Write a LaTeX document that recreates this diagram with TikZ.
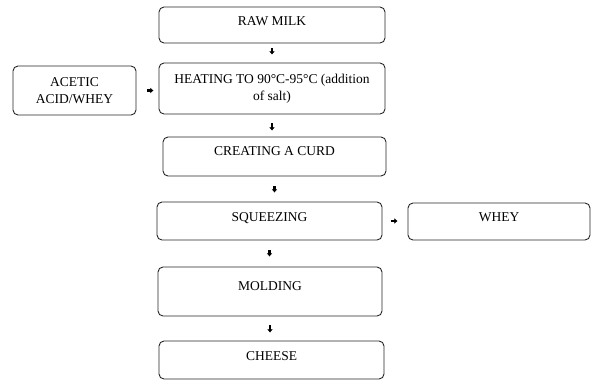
\documentclass[tikz,border=0pt]{standalone}
\usepackage{fontspec}
\setmainfont{Liberation Serif}
\usetikzlibrary{arrows.meta}
\begin{document}
\begin{tikzpicture}[x=1bp,y=-1bp,
  box/.style={draw=black!85, line width=0.9bp, rounded corners=5bp, rectangle,
    inner sep=0pt, align=center, font=\fontsize{13.5bp}{17bp}\selectfont},
  arr/.style={draw=black, line width=2.2bp, -{Latex[length=3.2bp,width=6bp]}}]
\useasboundingbox (0,0) rectangle (593,381);
\node[box, minimum width=226bp, minimum height=36bp, text depth=7bp] (raw) at (272,25) {RAW MILK};
\node[box, minimum width=226bp, minimum height=51bp] (heat) at (272,88.5) {HEATING TO 90°C-95°C (addition\\of salt)};
\node[box, minimum width=123bp, minimum height=49bp] (acetic) at (74.5,90.5) {ACETIC\\ACID/WHEY};
\node[box, minimum width=223bp, minimum height=39bp, text depth=10bp] (curd) at (274.5,156.5) {CREATING A CURD};
\node[box, minimum width=225bp, minimum height=38bp, text depth=8bp] (squeeze) at (269.5,221) {SQUEEZING};
\node[box, minimum width=182bp, minimum height=37bp, text depth=8bp] (whey) at (499,221.5) {WHEY};
\node[box, minimum width=224bp, minimum height=49bp, text depth=10bp] (mold) at (270,291.5) {MOLDING};
\node[box, minimum width=225bp, minimum height=38bp, text depth=8bp] (cheese) at (271.5,360) {CHEESE};
\draw[arr, shorten <=5bp, shorten >=8bp] (raw.south) -- (raw.south |- heat.north);
\draw[arr, shorten <=11bp, shorten >=5bp] (acetic.east) -- (acetic.east -| heat.west);
\draw[arr, shorten <=9bp, shorten >=6bp] (heat.south) -- (heat.south |- curd.north);
\draw[arr, shorten <=10bp, shorten >=9bp] (curd.south) -- (curd.south |- squeeze.north);
\draw[arr, shorten <=9bp, shorten >=10bp] (squeeze.east) -- (squeeze.east -| whey.west);
\draw[arr, shorten <=10bp, shorten >=10bp] (squeeze.south) -- (squeeze.south |- mold.north);
\draw[arr, shorten <=9bp, shorten >=8bp] (mold.south) -- (mold.south |- cheese.north);
\end{tikzpicture}
\end{document}
